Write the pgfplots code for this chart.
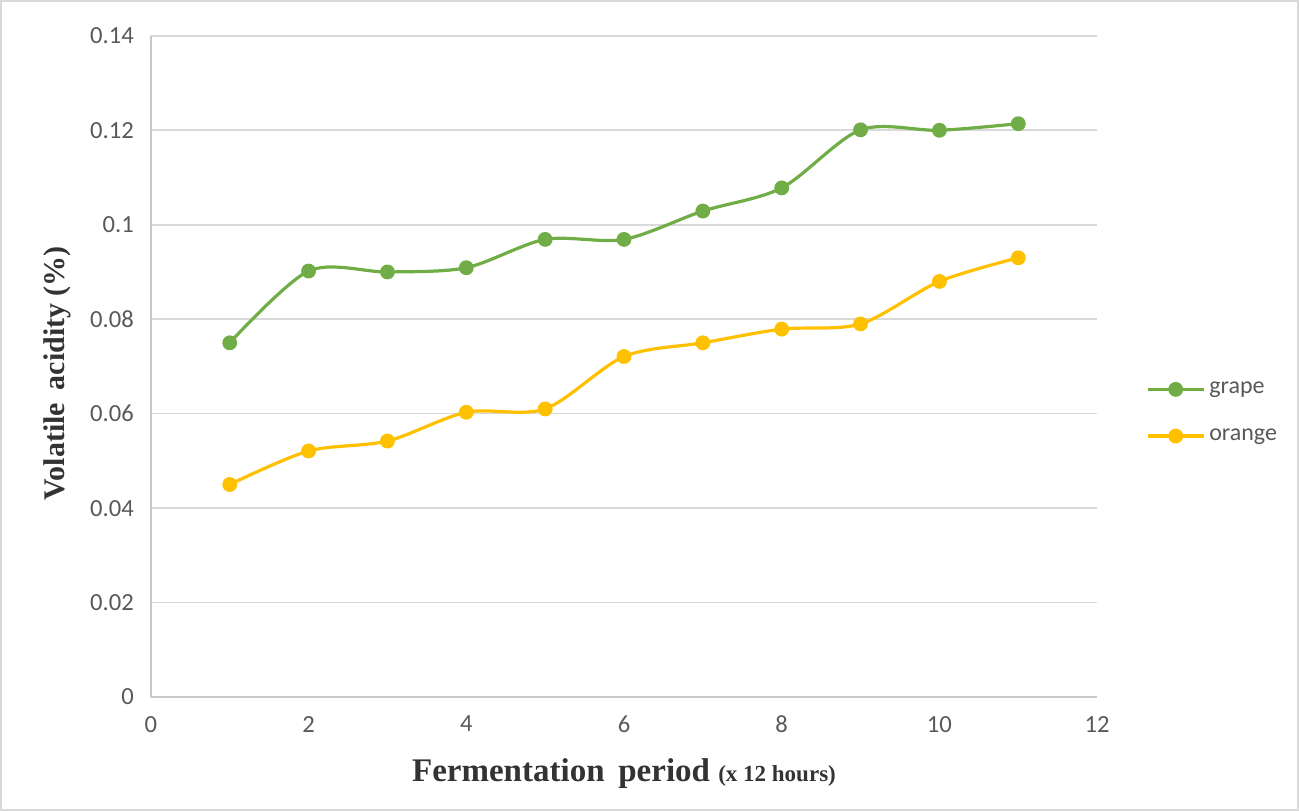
\documentclass[border=0pt]{standalone}
\usepackage{pgfplots}
\pgfplotsset{compat=1.18}
\usepackage{fontspec}
\setmainfont{Carlito}
\newfontfamily\serif{Liberation Serif}
\definecolor{grape}{HTML}{70AD47}
\definecolor{orng}{HTML}{FFC000}
\definecolor{txt}{HTML}{595959}
\definecolor{gridc}{HTML}{D9D9D9}
\begin{document}
\begin{tikzpicture}
\begin{axis}[
  scale only axis,
  width=473pt, height=330.5pt,
  xmin=0, xmax=12, ymin=0, ymax=0.14,
  xtick={0,2,...,12},
  ytick={0,0.02,...,0.14},
  yticklabels={0,0.02,0.04,0.06,0.08,0.1,0.12,0.14},
  /pgf/number format/assume math mode=true,
  ticklabel style={font=\fontsize{12.3}{14}\selectfont, text=txt},
  yticklabel style={xshift=-5pt},
  xticklabel style={yshift=-6pt},
  major tick length=0pt,
  axis x line*=bottom, axis y line*=left,
  axis line style={draw=gridc!80!gray, line width=0.8pt, -},
  ymajorgrids, grid style={draw=gridc, line width=0.8pt},
  clip=false,
  xlabel={\serif\bfseries\fontsize{16.5}{19}\selectfont Fermentation\, period \fontsize{11.5}{13}\selectfont(x 12 hours)},
  ylabel={\serif\bfseries\fontsize{15}{18}\selectfont Volatile\, acidity (\%)},
  xlabel style={at={(rel axis cs:0.5,-0.083)}, anchor=north, text=black!80},
  ylabel style={at={(rel axis cs:-0.077,0.49)}, anchor=south, text=black!80},
  legend style={at={(rel axis cs:1.045,0.43)}, anchor=west, draw=none, fill=none,
    font=\fontsize{12}{14}\selectfont, text=txt, row sep=12pt},
  legend cell align=left,
  legend image code/.code={
    \draw[#1, mark=none] (0cm,0cm) -- (28pt,0cm);
    \draw[#1, only marks] plot coordinates {(14pt,0cm)};
  },
]
\path[draw=gridc, line width=0.8pt] (rel axis cs:-0.1586,-0.1710) rectangle (rel axis cs:1.2125,1.0530);
\addplot[grape, line width=1.6pt, smooth, mark=*, mark size=2.9pt, mark options={fill=grape, draw=grape}] coordinates {
(1,0.075)(2,0.0902)(3,0.0900)(4,0.0909)(5,0.0969)(6,0.0969)(7,0.1029)(8,0.1078)(9,0.1201)(10,0.1200)(11,0.1214)};
\addlegendentry{grape}
\addplot[orng, line width=1.6pt, smooth, mark=*, mark size=2.9pt, mark options={fill=orng, draw=orng}] coordinates {
(1,0.0450)(2,0.0521)(3,0.0542)(4,0.0603)(5,0.0610)(6,0.0721)(7,0.0750)(8,0.0779)(9,0.0790)(10,0.0880)(11,0.0930)};
\addlegendentry{orange}
\end{axis}
\end{tikzpicture}
\end{document}
